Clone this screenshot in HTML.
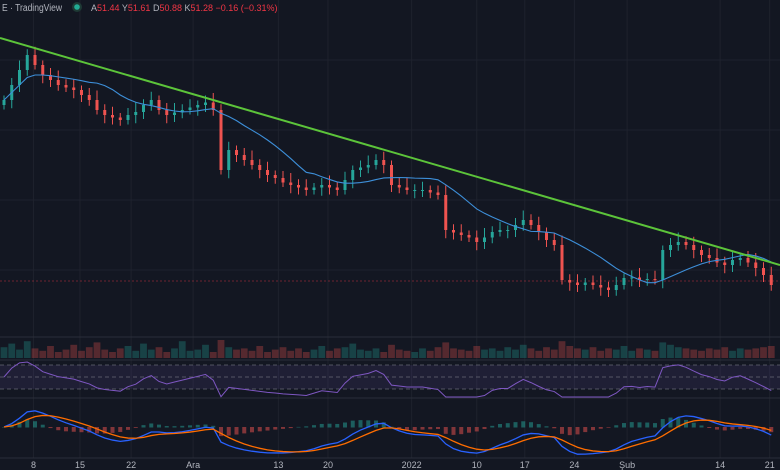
<!DOCTYPE html>
<html><head><meta charset="utf-8"><style>
html,body{margin:0;padding:0;background:#131722;width:780px;height:470px;overflow:hidden;font-family:"Liberation Sans",sans-serif}
svg{display:block}
</style></head><body>
<svg id="c" width="780" height="470" xmlns="http://www.w3.org/2000/svg">
<rect x="0" y="0" width="780" height="470" fill="#131722"/>
<g id="grid"></g>
<g id="vol"></g>
<g id="rsi"></g>
<g id="macd"></g>
<g id="main"></g>
<g id="xaxis"></g>
<g>
<text x="2" y="11" fill="#b2b5be" font-size="10" textLength="60" lengthAdjust="spacingAndGlyphs">E · TradingView</text>
<circle cx="77" cy="7" r="5" fill="#1e3a35"/>
<circle cx="77" cy="7" r="2.8" fill="#22ab94"/>
<text x="91" y="11" font-size="9"><tspan fill="#b2b5be">A</tspan><tspan fill="#f23645">51.44 </tspan><tspan fill="#b2b5be">Y</tspan><tspan fill="#f23645">51.61 </tspan><tspan fill="#b2b5be">D</tspan><tspan fill="#f23645">50.88 </tspan><tspan fill="#b2b5be">K</tspan><tspan fill="#f23645">51.28 −0.16 (−0.31%)</tspan></text>
</g>
</svg>
<script>
const closes=[60,63,66,69,67,65,64,63,62.5,62,61,60,58,57,56.5,56,57,57.6,59,60,58,57,57.5,58,58.5,59,59.5,58,46,50,49,48,47,46,45,44.4,43.5,43,42.5,42,42.5,43,42.5,42,44,46,46.5,47,48,47,43,42.5,42,42,42,41.5,41,34,33.5,33,32.5,31.6,32.5,33.6,34,34,35,36,35,33.6,32,31,24,23.5,23,23.5,23,22.5,22,23,24.4,24.5,24,24.2,24,30,31,31.6,31,30,29,28.4,27.5,27,28,28.4,27.5,26.4,25,23];
const volumes=[9,12,7,14,8,6,10,5,7,11,6,9,13,7,5,8,10,6,12,7,9,5,8,14,6,7,11,5,15,9,7,8,6,10,5,7,9,6,8,5,7,10,6,8,9,12,7,6,8,5,11,7,6,5,8,6,9,13,8,7,6,10,7,8,6,9,7,11,8,6,9,7,14,10,8,7,9,6,8,7,10,6,8,7,6,13,11,9,8,7,6,8,7,9,6,8,7,8,9,10];
const dateLabels=["8","15","22","Ara","13","20","2022","10","17","24","Şub","14","21"];
const dateIdx=[3.8,9.8,16.4,24.4,35.4,41.8,52.6,61,67.2,73.6,80.4,92.4,98.8];
const trendStart=72.4, trendEnd=27;
const NS="http://www.w3.org/2000/svg";
function el(p,t,a){const e=document.createElementNS(NS,t);for(const k in a)e.setAttribute(k,a[k]);p.appendChild(e);return e;}
const N=closes.length;
const xs=i=>4+i*7.75;
const yP=p=>400-5*p;
const g=id=>document.getElementById(id);
const grid=g('grid');
dateIdx.forEach((d,k)=>{const l=el(grid,'line',{x1:xs(d),x2:xs(d),y1:0,y2:458,stroke:'#1e222d','stroke-width':1});

});
[60,130,200,270].forEach(y=>{const l=el(grid,'line',{x1:0,x2:780,y1:y,y2:y,stroke:'#1e222d'});

});
[337,360,398,458].forEach(y=>{const l=el(grid,'line',{x1:0,x2:780,y1:y,y2:y,stroke:'#2a2e39'});

});
const main=g('main');
const lp=el(main,'line',{x1:0,x2:780,y1:281,y2:281,stroke:'#f23645','stroke-opacity':0.4,'stroke-dasharray':'2 2'});


for(let i=0;i<N;i++){
 const o=i?closes[i-1]:closes[0]-1,c=closes[i];
 const up=c>=o,col=up?'#26a69a':'#ef5350';
 const hi=Math.max(o,c)+0.9+((i*7)%5)*0.25,lo=Math.min(o,c)-0.9-((i*3)%4)*0.25;
 const w=el(main,'line',{x1:xs(i),x2:xs(i),y1:yP(hi),y2:yP(lo),stroke:col,'stroke-width':1});
 
 
 const b=el(main,'rect',{x:xs(i)-1.5,y:yP(Math.max(o,c)),width:3,height:Math.max(1,Math.abs(o-c)*5),fill:col});
 
 
}
let ma=[];for(let i=0;i<N;i++){const s=Math.max(0,i-11);let t=0;for(let j=s;j<=i;j++)t+=closes[j];ma.push(t/(i-s+1));}
const maPath=el(main,'path',{d:ma.map((v,i)=>(i?'L':'M')+xs(i)+' '+yP(v)).join(''),fill:'none',stroke:'#3d8fd9','stroke-width':1.1});


const tl=el(main,'line',{x1:0,y1:yP(trendStart),x2:780,y2:yP(trendEnd),stroke:'#5cc43a','stroke-width':2});


const vol=g('vol');
for(let i=0;i<N;i++){const up=i==0||closes[i]>=closes[i-1];const h=volumes[i]*1.2;
 const r=el(vol,'rect',{x:xs(i)-3.4,y:358-h,width:6.8,height:h,fill:up?'#26a69a':'#ef5350','fill-opacity':0.3});
 
 }
const rsiG=g('rsi');
const band=el(rsiG,'rect',{x:0,y:365,width:780,height:24,fill:'#7e57c2','fill-opacity':0.12});


[365,377,389].forEach(y=>{const l=el(rsiG,'line',{x1:0,x2:780,y1:y,y2:y,stroke:'#787b86','stroke-dasharray':'4 3','stroke-opacity':0.6});

});
let rsi=[],ag=0.5,al=0.5;
for(let i=0;i<N;i++){const d=i?closes[i]-closes[i-1]:0;const a=1/9;ag=ag*(1-a)+Math.max(d,0)*a;al=al*(1-a)+Math.max(-d,0)*a;rsi.push(100*ag/(ag+al));}
const yR=v=>389-(v-30)*24/40;
const rp=el(rsiG,'path',{d:rsi.map((v,i)=>(i?'L':'M')+xs(i)+' '+Math.max(362,Math.min(397,yR(v)))).join(''),fill:'none',stroke:'#7e57c2','stroke-width':1});


const mg=g('macd');
function ema(arr,n){const k=2/(n+1);let e=arr[0];return arr.map(v=>e=v*k+e*(1-k));}
const e1=ema(closes,6),e2=ema(closes,13);const macd=e1.map((v,i)=>v-e2[i]);const sig=ema(macd,5);
const yM=v=>427-v*8;
for(let i=0;i<N;i++){const h=macd[i]-sig[i];const r=el(mg,'rect',{x:xs(i)-2,y:Math.min(yM(h),427),width:4,height:Math.abs(h*8)+0.5,fill:h>=0?'#26a69a':'#ef5350','fill-opacity':0.5});
 
 }
const m1=el(mg,'path',{d:macd.map((v,i)=>(i?'L':'M')+xs(i)+' '+yM(v)).join(''),fill:'none',stroke:'#2962ff','stroke-width':1.3});


const m2=el(mg,'path',{d:sig.map((v,i)=>(i?'L':'M')+xs(i)+' '+yM(v)).join(''),fill:'none',stroke:'#ff6d00','stroke-width':1.3});


const xa=g('xaxis');
dateLabels.forEach((t,k)=>{const tx=el(xa,'text',{x:xs(dateIdx[k]),y:468,'text-anchor':'middle',fill:'#b2b5be','font-size':9});
tx.textContent=t;

});
</script>
</body></html>
